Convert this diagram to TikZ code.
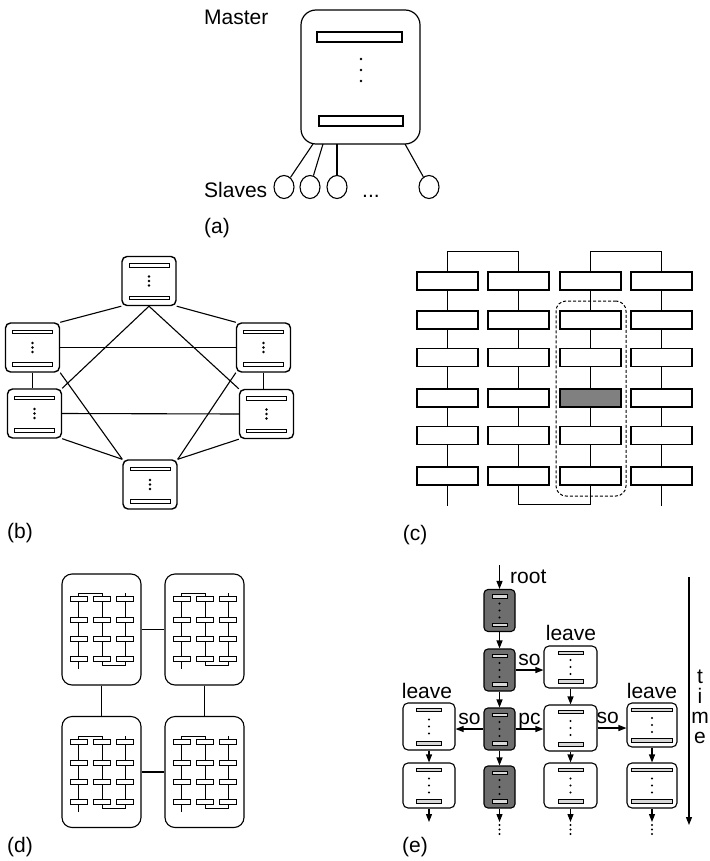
\documentclass[tikz,border=0pt]{standalone}
\usepackage{fontspec}
\setmainfont{Liberation Sans}
\usetikzlibrary{arrows.meta,shapes.geometric}
\definecolor{dgray}{HTML}{6E6E6E}
\definecolor{mgray}{HTML}{808080}
\definecolor{lgray}{HTML}{D8D8D8}
\tikzset{
 lbl/.style={font=\fontsize{21}{25}\selectfont, inner sep=0pt},
 ln/.style={line width=1.1pt},
 arr/.style={line width=1.1pt, -{Triangle[length=8pt,width=6pt]}},
 bbox/.style={draw, fill=white, rounded corners=5pt, minimum width=54pt, minimum height=49pt, line width=1.4pt, inner sep=0pt},
 bbar/.style={draw, line width=0.8pt},
 cbox/.style={draw, fill=white, minimum width=61pt, minimum height=18pt, line width=1.4pt, inner sep=0pt},
 cfill34/.style={fill=mgray},
 dbox/.style={draw, rounded corners=10pt, minimum width=79pt, minimum height=111pt, line width=1.1pt, inner sep=0pt},
 gbox/.style={draw, fill=dgray, rounded corners=4pt, line width=1.1pt, inner sep=0pt},
 wbox/.style={draw, fill=white, rounded corners=5pt, line width=1.1pt, inner sep=0pt},
 ebar/.style={draw, fill=lgray, line width=0.8pt},
 slave/.style={draw, ellipse, minimum width=20pt, minimum height=23pt, line width=1.1pt, inner sep=0pt},
}
\newcommand\mkbnode[3]{%
 \node[bbox] (#1) at (#2,#3) {};
 \begin{scope}[shift={(#2,#3)}]
  \path[bbar] (-20,-17.5) rectangle (20,-14);
  \path[bbar] (-20,15) rectangle (20,18.5);
  \fill (0,-4.5) circle (1.3pt) (0,0) circle (1.3pt) (0,4.5) circle (1.3pt);
 \end{scope}}
\newcommand\mkebox[7]{%
 \node[#2, minimum width=#5pt, minimum height=#6pt] (#1) at (#3,#4) {};
 \begin{scope}[shift={(#3,#4)}]
  \path[ebar] (-#7/2,-#6/2+5) rectangle (#7/2,-#6/2+8.5);
  \path[ebar] (-#7/2,#6/2-8.5) rectangle (#7/2,#6/2-5);
  \fill (0,-7) circle (1.2pt) (0,0) circle (1.2pt) (0,7) circle (1.2pt);
 \end{scope}}
\newcommand\mkgrid[2]{%
 \begin{scope}[shift={(#1,#2)}, line width=0.8pt]
  \draw (16.5,95) -- (16.5,19) -- (40,19) -- (40,91) -- (63,91) -- (63,19);
  \foreach \yy in {25,46,65,85}{\foreach \xx in {16.5,40,63}{%
    \filldraw[fill=white] (\xx-8.5,\yy-2.5) rectangle (\xx+8.5,\yy+2.5);}}
 \end{scope}}
\begin{document}
\begin{tikzpicture}[x=1pt,y=-1pt]
\useasboundingbox (0,0) rectangle (709,861);
% ---------- (a)
\node[lbl, anchor=base west] (master) at (204,25) {Master};
\node[draw, rounded corners=15pt, minimum width=119pt, minimum height=134pt, line width=1.2pt] (mbox) at (360.5,77) {};
\draw[line width=1.1pt] (317,32) rectangle (402,42);
\draw[line width=1.1pt] (319,116) rectangle (403,126);
\fill (361,59) circle (1.3pt) (361,70) circle (1.3pt) (361,81) circle (1.3pt);
\node[slave] (s1) at (284,187) {};
\node[slave] (s2) at (310,187) {};
\node[slave] (s3) at (337,187) {};
\node[slave] (s4) at (429,187) {};
\coordinate (m1) at (313,144);
\coordinate (m2) at (323,144);
\coordinate (m3) at (337,144);
\coordinate (m4) at (405,144);
\draw[ln] (m1) -- (s1);
\draw[ln] (m2) -- (s2);
\draw[ln] (m3) -- (s3);
\draw[ln] (m4) -- (s4);
\node[lbl, anchor=base west] (slaves) at (204,197) {Slaves};
\node[lbl, anchor=base west] (sdots) at (362,197) {...};
\node[lbl] (la) at (217,228) {(a)};
% ---------- (b)
\mkbnode{T}{149}{281}
\mkbnode{LU}{32.5}{347.5}
\mkbnode{RU}{263.5}{347.5}
\mkbnode{LL}{34.5}{413.5}
\mkbnode{RL}{266.5}{414}
\mkbnode{B}{150}{484.5}
\draw[ln] (T.south west) -- (LU.north east);
\draw[ln] (T.south east) -- (RU.north west);
\draw[ln] (T.south) -- (LL.north east);
\draw[ln] (T.south) -- (RL.north west);
\draw[ln] (LU.east) -- (RU.west);
\draw[ln] (LL.east) -- (RL.west);
\draw[ln] (LU.south) -- (LU.south |- LL.north);
\draw[ln] (RU.south) -- (RU.south |- RL.north);
\draw[ln] (LU.south east) -- (B.north west);
\draw[ln] (RU.south west) -- (B.north east);
\draw[ln] (LL.south east) -- (B.north west);
\draw[ln] (RL.south west) -- (B.north east);
\node[lbl] (lb) at (20,533) {(b)};
% ---------- (c)
\foreach \i/\x in {1/447.5,2/518.5,3/590.5,4/661.5}{%
 \foreach \j/\y in {1/281,2/320,3/357.5,4/398,5/435.5,6/476}{%
  \node[cbox, cfill\i\j/.try] (c\i\j) at (\x,\y) {};}}
\foreach \i in {1,...,4}{\foreach \j/\k in {1/2,2/3,3/4,4/5,5/6}{\draw[ln] (c\i\j) -- (c\i\k);}}
\draw[ln] (c11.north) -- ++(0,-20) -| (c21.north);
\draw[ln] (c31.north) -- ++(0,-20) -| (c41.north);
\draw[ln] (c16.south) -- ++(0,20);
\draw[ln] (c26.south) -- ++(0,19) -| (c36.south);
\draw[ln] (c46.south) -- ++(0,20);
\node[draw, dashed, dash pattern=on 3pt off 2pt, rounded corners=10pt, minimum width=70pt, minimum height=195pt, line width=1pt, inner sep=0pt] (grp) at (591,398.5) {};
\node[lbl] (lc) at (415,535) {(c)};
% ---------- (d)
\node[dbox] (TL) at (101.5,629.5) {};
\node[dbox] (TR) at (204.5,629.5) {};
\node[dbox] (BL) at (101.5,772) {};
\node[dbox] (BR) at (204.5,772) {};
\mkgrid{62}{574}
\mkgrid{165}{574}
\mkgrid{62}{717}
\mkgrid{165}{717}
\draw[ln] (TL.east) -- (TR.west);
\draw[ln] (BL.east) -- (BR.west);
\draw[ln] (TL.south) -- (BL.north);
\draw[ln] (TR.south) -- (BR.north);
\node[lbl] (ld) at (20,847) {(d)};
% ---------- (e)
\mkebox{g1}{gbox}{499.5}{610.5}{31}{42}{15}
\mkebox{g2}{gbox}{499.5}{670}{31}{42}{15}
\mkebox{g3}{gbox}{499.5}{729}{31}{42}{15}
\mkebox{g4}{gbox}{499.5}{787}{31}{42}{15}
\mkebox{A}{wbox}{570.5}{667}{53}{42}{25}
\mkebox{Bx}{wbox}{570.5}{728}{53}{46}{25}
\mkebox{C}{wbox}{570.5}{785.5}{53}{45}{25}
\mkebox{D}{wbox}{429}{726.5}{52}{47}{25}
\mkebox{E}{wbox}{429}{785.5}{52}{45}{25}
\mkebox{F}{wbox}{652}{725}{50}{44}{41}
\mkebox{G}{wbox}{652}{785.5}{50}{45}{41}
\coordinate (rt) at (499.5,565);
\coordinate (g4e) at (499.5,822);
\coordinate (Ce) at (570.5,822);
\coordinate (Ee) at (429,822);
\coordinate (Ge) at (652,822);
\draw[arr] (rt) -- (g1);
\draw[arr] (g1) -- (g2);
\draw[arr] (g2) -- (g3);
\draw[arr] (g3) -- (g4);
\draw[arr] (g4) -- (g4e);
\draw[arr] (A) -- (Bx);
\draw[arr] (Bx) -- (C);
\draw[arr] (C) -- (Ce);
\draw[arr] (D) -- (E);
\draw[arr] (E) -- (Ee);
\draw[arr] (F) -- (G);
\draw[arr] (G) -- (Ge);
\foreach \xx in {499.5,570.5,652}{\fill (\xx,825) circle (1.1pt) (\xx,829.5) circle (1.1pt) (\xx,834) circle (1.1pt);}
\draw[arr] (g2.east) -- (g2.east -| A.west) node[lbl, midway, anchor=base, yshift=5pt] (so1) {so};
\draw[arr] (g3.east) -- (g3.east -| Bx.west) node[lbl, midway, anchor=base, yshift=5pt] (pc) {pc};
\draw[arr] (g3.west) -- (g3.west -| D.east) node[lbl, midway, anchor=base, yshift=5pt] (so2) {so};
\draw[arr] (Bx.east) -- (Bx.east -| F.west) node[lbl, pos=0.35, anchor=base, yshift=5pt] (so3) {so};
\node[lbl, anchor=base west] (root) at (510,583) {root};
\node[lbl, anchor=base] (lvA) at (571,640) {leave};
\node[lbl, anchor=base] (lvD) at (427,698) {leave};
\node[lbl, anchor=base] (lvF) at (652,698) {leave};
\coordinate (ta) at (689,577);
\coordinate (tb) at (689,825);
\draw[arr] (ta) -- (tb);
\node[lbl, anchor=base] (t1) at (700,683) {t};
\node[lbl, anchor=base] (t2) at (700,703) {i};
\node[lbl, anchor=base] (t3) at (700,723) {m};
\node[lbl, anchor=base] (t4) at (700,743) {e};
\node[lbl] (le) at (415,847) {(e)};
\end{tikzpicture}
\end{document}
